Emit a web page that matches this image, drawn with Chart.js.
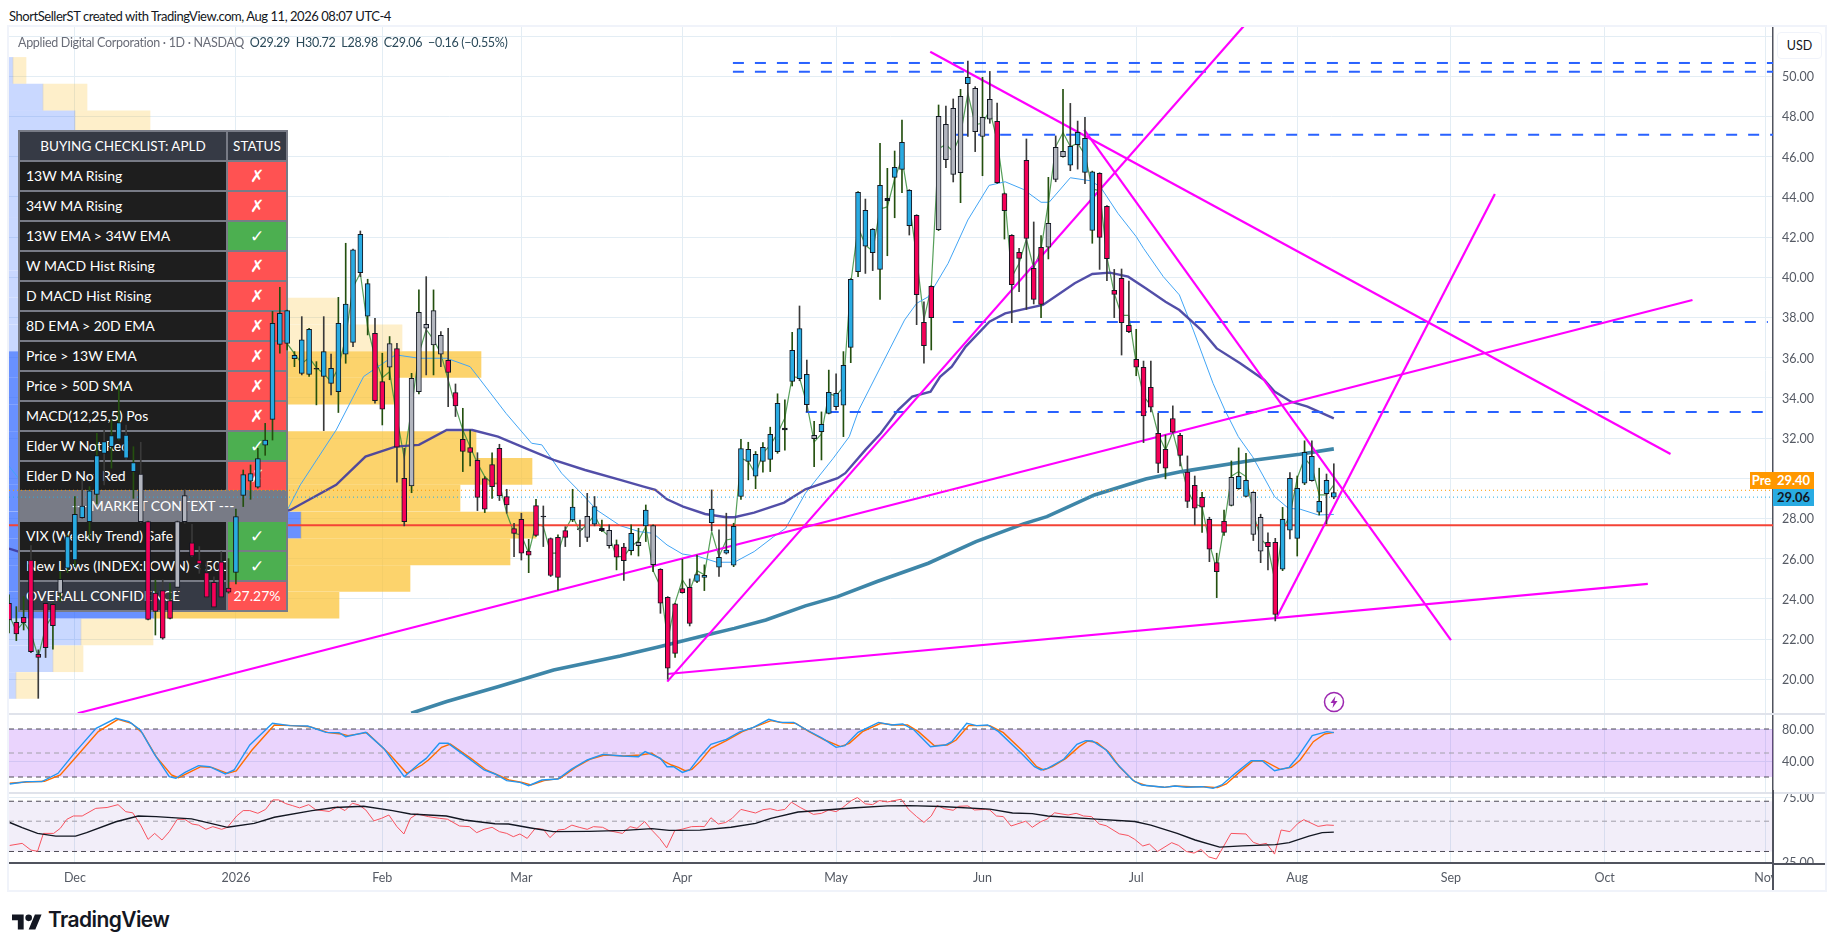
<!DOCTYPE html>
<html>
<head>
<meta charset="utf-8">
<title>APLD</title>
<script src="https://cdn.jsdelivr.net/npm/chart.js@4"></script>
<style>
html, body { margin: 0; padding: 0; background: #fff; }
body { width: 1835px; height: 951px; position: relative; overflow: hidden; font-family: Lato, sans-serif; }
canvas { position: absolute; left: 9px; }
#frame { position: absolute; left: 7px; top: 25px; width: 1816px; height: 863px; border: 2px solid #f0f3fa; }
#mainBack { top: 27px; z-index: 1; }
#mainFront { top: 27px; z-index: 3; }
#stochPane { top: 714px; z-index: 1; }
#rsiPane { top: 794px; z-index: 1; }
.sep { position: absolute; left: 9px; width: 1816px; height: 2px; background: #e0e3eb; z-index: 2; }
#axisFoot { position: absolute; left: 1774px; top: 864px; width: 51px; height: 26px; background: #fff; z-index: 2; }
#axisBase { position: absolute; left: 1773px; top: 863px; width: 52px; height: 2px; background: #50535e; z-index: 3; }
#axisDrop { position: absolute; left: 1772px; top: 790px; width: 2px; height: 100px; background: #50535e; z-index: 3; }
#credit { position: absolute; left: 9px; top: 8px; font-size: 13px; letter-spacing: -0.45px; color: #131722; }
#legend { position: absolute; left: 18px; top: 35px; font-size: 12.5px; letter-spacing: -0.3px; color: #6a6d78; z-index: 4; white-space: pre; }
#legend b { font-weight: 400; color: #2b4a5a; }
#usd { position: absolute; left: 1777px; top: 32px; width: 43px; height: 25px; line-height: 25px; text-align: center; border: 1px solid #f0f3fa; border-radius: 4px; font-size: 12.5px; color: #131722; background: #fff; z-index: 4; }
.tag { position: absolute; height: 17px; line-height: 17px; font-size: 13px; font-weight: 700; z-index: 5; text-align: center; }
#checklist { position: absolute; left: 18px; top: 130px; width: 270px; z-index: 2; background: #787b86; padding: 2px; box-sizing: border-box; display: grid; grid-template-columns: 206px 58px; grid-auto-rows: 28px; gap: 2px; color: #fff; font-size: 14px; }
#checklist div { line-height: 28px; white-space: nowrap; overflow: hidden; background: #1e1e1e; padding-left: 6px; }
#checklist .st { padding-left: 0; text-align: center; }
#checklist .mark { font: 700 17px "DejaVu Sans", sans-serif; line-height: 28px; }
#checklist .head { background: #363a45; text-align: center; padding-left: 0; font-size: 13.5px; }
#checklist .foot { background: #363a45; }
#checklist .ctx { background: #787b86; grid-column: 1 / 3; text-align: center; padding-left: 0; }
#checklist .bad { background: #ff5252; }
#checklist .good { background: #4caf50; }
#bolt { position: absolute; left: 1323px; top: 691px; z-index: 4; }
#tvLogo { position: absolute; left: 12px; top: 913px; }
#tvWord { position: absolute; left: 48px; top: 907px; font: 600 21px Inter, sans-serif; color: #131722; letter-spacing: -0.6px; }
</style>
</head>
<body>
<div id="credit">ShortSellerST created with TradingView.com, Aug 11, 2026 08:07 UTC-4</div>
<div id="frame"></div>
<canvas id="mainBack" width="1816" height="687"></canvas>
<div id="checklist"></div>
<canvas id="mainFront" width="1816" height="687"></canvas>
<div id="legend">Applied Digital Corporation · 1D · NASDAQ  <b>O29.29  H30.72  L28.98  C29.06  −0.16 (−0.55%)</b></div>
<div id="usd">USD</div>
<canvas id="stochPane" width="1816" height="79"></canvas>
<canvas id="rsiPane" width="1816" height="96"></canvas>
<div class="sep" style="top:713px"></div>
<div class="sep" style="top:792px"></div>
<div id="axisFoot"></div>
<div id="axisBase"></div>
<div id="axisDrop"></div>
<svg id="bolt" width="22" height="22" viewBox="0 0 22 22"><circle cx="11" cy="11" r="9.5" fill="#fff" stroke="#9c27b0" stroke-width="1.5"/><path d="M12.5 5 L7.5 12 H10.5 L9.5 17 L14.5 10 H11.5 Z" fill="#9c27b0"/></svg>
<svg id="tvLogo" width="30" height="18" viewBox="0 3 36 20"><path d="M14 22H7V11H0V4h14v18zM28 22h-8l7.5-18h8L28 22z" fill="#131722"/><circle cx="20" cy="8" r="4" fill="#131722"/></svg>
<div id="tvWord">TradingView</div>
<script>
// Time axis, x values are trading days counted from Dec 1
const firstBar = -9;
const lastSlot = 232;
const monthTicks = [0, 22, 42, 61, 83, 104, 124, 145, 167, 188, 209, 231];
const monthLabels = ['Dec', '2026', 'Feb', 'Mar', 'Apr', 'May', 'Jun', 'Jul', 'Aug', 'Sep', 'Oct', 'Nov'];
const priceTicks = [52, 50, 48, 46, 44, 42, 40, 38, 36, 34, 32, 30, 28, 26, 24, 22, 20];
const stochTicks = [80, 40];
const rsiTicks = [75, 25];

// Candles, first value is bar -9
const highs = [24.2, 23.61, 24.11, 26.65, 21.46, 23.81, 23.78, 25.35, 27.18,
    29.09, 29.92, 29.58, 32.24, 32.4, 32.9, 34.6, 32.65, 31.57, 31.79,
    27.87, 24.94, 24.94, 24.77, 27.87, 29.42, 27.71, 26.6, 25.85, 25.1,
    26.35, 26, 28.46, 30.41, 30.66, 31.49, 32.73, 38.3, 39.5, 38.37,
    36.3, 38.04, 37.46, 35.8, 38.04, 36.18, 39, 41.69, 41.4, 42.3,
    39.9, 37.96, 36.22, 37.05, 36.71, 31.49, 35.22, 39.37, 40.03, 39.37,
    37.3, 37.46, 34.69, 33.48, 32.4, 31.27, 30.08, 31.27, 31.69, 29.45,
    27.76, 28.26, 26.96, 28.95, 28.62, 27.03, 27.18, 27.59, 29.45, 27.92,
    29.25, 29.09, 27.92, 27.68, 26.93, 26.76, 27.68, 27.51, 28.67, 27.68,
    25.5, 24.11, 23.78, 25.97, 24.99, 26.18, 25.69, 29.42, 27.43, 28.26,
    27.76, 31.94, 31.79, 31.33, 31.77, 32.54, 34.2, 33.9, 37.26, 38.57,
    35.88, 32.83, 33.3, 35.38, 35.19, 36.3, 39.93, 44.26, 43.89, 42.42,
    46.66, 45.42, 46.28, 47.82, 44.36, 43.11, 38.78, 39.58, 48.57, 48.52,
    48.87, 49.35, 50.76, 49.48, 49.95, 50.24, 48.67, 44.19, 42.12, 41.44,
    46.88, 42.75, 42.07, 44.97, 47.03, 49.35, 48.65, 47.77, 47.95, 45.28,
    45.2, 43.56, 40.39, 40.41, 39.81, 37.41, 35.83, 35.83, 33.23, 32.15,
    33.6, 32.24, 31.11, 30.11, 29.3, 28.06, 26.27, 28.42, 30.86, 31.51,
    31.24, 29.33, 28.21, 27.28, 27.01, 28.55, 30.28, 30.11, 31.86, 31.86,
    30.5, 30.21, 30.72];
const lows = [22.3, 21.92, 22.45, 21.32, 19.05, 21.08, 21.49, 23.86, 25.3,
    25.6, 28.01, 27.01, 28.72, 29.67, 30.5, 31.9, 30.94, 29, 27.79,
    22.95, 22.2, 21.99, 23, 24.36, 27.76, 26.1, 25.27, 24.03, 23.53,
    24.03, 24.28, 24.74, 28.59, 28.95, 29.5, 31.14, 31.9, 36.22, 36.38,
    35.55, 35.14, 35.06, 33.65, 32.37, 34.14, 33.27, 35.72, 36.55, 40.03,
    37.13, 33.73, 32.65, 34.9, 29.8, 27.63, 29.28, 34.2, 35.14, 35.14,
    35.55, 33.56, 33.07, 30.33, 30.61, 28.39, 28.29, 29, 28.89, 28.26,
    26.1, 25.93, 25.3, 27.1, 26.6, 25.11, 24.44, 26.6, 27.84, 26.6,
    26.85, 27.63, 27.34, 26.52, 25.44, 24.91, 26.18, 26.13, 26.85, 25.35,
    23.28, 20, 21.08, 24.28, 22.65, 24.81, 24.41, 27.39, 25.11, 26.23,
    25.6, 28.95, 29.92, 29.48, 30.3, 30.33, 31.24, 31.4, 34.59, 34.85,
    33.3, 30.58, 30.91, 33.2, 33.4, 32.07, 35.75, 40.03, 40.19, 40.33,
    38.9, 41.07, 42.96, 44.21, 42.1, 37.64, 35.72, 36.38, 42.32, 45.45,
    44.74, 43.71, 47, 46.25, 45.05, 47.66, 44.67, 41.9, 37.74, 39.28,
    38.4, 38.67, 37.99, 40.91, 44.75, 45.97, 45.3, 45.38, 44.65, 41.69,
    40.39, 39.83, 37.99, 36.13, 37.24, 35.1, 31.77, 33.3, 30.28, 29.97,
    32.24, 30.61, 28.54, 27.68, 27.3, 25.85, 24.06, 27.15, 28.62, 29.45,
    29.07, 26.9, 25.8, 25.44, 22.9, 25.4, 26.98, 26.13, 29.68, 29.85,
    28.17, 27.73, 28.98];
const bodyTops = [23.78, 22.83, 23.08, 25.93, 21.24, 23.78, 23.73, 24.97, 27.1,
    28.21, 28.62, 29.37, 31.13, 31.82, 32.12, 32.77, 32.15, 30.78, 30.21,
    27.84, 24.28, 24.41, 23.91, 27.84, 29.14, 26.78, 25.93, 25.3, 24.82,
    25.84, 24.53, 28.09, 30.18, 30.23, 30.98, 31.9, 37.71, 38.21, 38.34,
    36.12, 36.88, 37.41, 35.47, 36.3, 35.47, 37.71, 38.67, 41.36, 42.14,
    39.68, 37.21, 34.81, 36.7, 36.45, 30, 34.97, 38.26, 37.66, 38.34,
    37.11, 35.87, 34.26, 31.94, 31.52, 30.89, 29.98, 30.68, 31.49, 29.09,
    27.49, 27.96, 26.37, 28.64, 28.12, 27, 27.06, 27.39, 28.56, 27.49,
    28.11, 28.59, 27.51, 27.41, 26.7, 26.57, 27.26, 26.81, 28.41, 27.64,
    25.47, 24.08, 23.75, 24.51, 24.57, 25.21, 25.17, 28.46, 26.07, 26.42,
    27.61, 31.47, 31.44, 31.19, 31.54, 32.19, 33.73, 32.5, 36.36, 37.44,
    35.17, 32.14, 32.68, 34.27, 34.22, 35.62, 39.89, 44.22, 43.33, 42.38,
    44.57, 43.93, 45.47, 46.71, 44.32, 43.08, 37.76, 39.55, 48, 47.61,
    48.4, 49, 49.95, 49.4, 47.95, 48.85, 47.76, 44.16, 42.08, 41.24,
    45.82, 40.44, 41.49, 42.68, 46.46, 46.26, 46.51, 47.21, 46.91, 45.25,
    45.17, 43.53, 39.35, 39.95, 37.61, 35.92, 35.52, 34.52, 32.24, 31.44,
    32.97, 32.14, 30.3, 29.65, 29.05, 27.96, 25.8, 27.86, 30.05, 30.1,
    29.9, 29.3, 28.06, 26.81, 26.81, 27.96, 30, 29.5, 31.29, 31.09,
    28.85, 29.9, 29.29];
const bodyBottoms = [22.95, 22.25, 22.82, 21.37, 21.08, 21.57, 22.67, 24.28, 25.52,
    25.93, 28.04, 27.84, 29.2, 31.24, 31.57, 31.94, 31, 30.33, 27.84,
    22.98, 23.37, 22.04, 23.03, 24.57, 27.84, 26.13, 25.74, 24.08, 23.58,
    24.08, 24.33, 25.32, 29.15, 29.85, 29.55, 31.64, 32.93, 36.66, 36.71,
    35.95, 35.22, 35.17, 35.42, 35.06, 34.72, 34.31, 36.17, 36.76, 40.23,
    38.06, 33.86, 33.43, 35.52, 31.54, 27.84, 29.62, 34.31, 37.46, 36.63,
    36.17, 35.27, 33.6, 31.34, 31.29, 29.05, 28.46, 29.58, 29.12, 28.67,
    27.26, 26.27, 26.17, 27.16, 28.07, 25.16, 25.07, 27.06, 27.92, 27.44,
    27.06, 27.71, 27.39, 26.65, 26.07, 25.9, 26.4, 26.65, 27.63, 25.7,
    23.78, 20.55, 21.29, 24.31, 22.78, 24.86, 25.07, 27.79, 25.57, 26.27,
    25.67, 29.09, 30.84, 30.1, 30.84, 30.94, 31.32, 32.4, 34.82, 34.95,
    33.66, 31.97, 32.32, 33.23, 33.56, 33.63, 36.51, 40.28, 41.54, 41.22,
    40.39, 43.81, 44.97, 45.37, 42.57, 39.13, 36.59, 37.99, 42.37, 45.85,
    45.12, 45.2, 49.63, 47.24, 47, 47.86, 44.7, 43.31, 39.63, 40.94,
    41.93, 38.9, 38.65, 41.49, 44.87, 46, 45.57, 46.6, 45.22, 42.33,
    41.98, 40.92, 39.15, 37.74, 37.29, 35.52, 33.1, 33.53, 30.74, 30.5,
    32.29, 31.14, 28.85, 28.51, 28.56, 26.47, 25.35, 27.31, 28.65, 29.48,
    29.1, 27.2, 26.37, 26.6, 23.23, 25.47, 27.41, 27.01, 29.75, 29.88,
    28.31, 29.23, 29.06];
const candleKinds = ('r r r r r r r g b ' +
    'b b b b b b b b b g r r r r g g r r r r ' +
    'r r b b b b b b b b b b b k b b b b b b ' +
    'b r r g r r g g g g g r r r r r r r r r ' +
    'r r r r k r r r b g g b k g r r b g b g ' +
    'r r r r r b b b b b b b b b b b b k b b ' +
    'b g b b b b b b b b b k b b b r r r g g ' +
    'g g b g g g r r r r r r r g g g b b b b ' +
    'r r r r r r r r r r r r r r r r r r g b ' +
    'b g g r r b b b b b b b b').split(' ');
const wickKinds = ('u u u d d d u u u ' +
    'u d u u d u u d u d d u d u d d d d d d ' +
    'd u u u u u u u u u u d u u d d u u d d ' +
    'u d u u d d u u d u d d d u u d u u d d ' +
    'd d u u d d u d u d d d u d u d u u u u ' +
    'd d u u d u u d d d u u u u u u u u u d ' +
    'd u u u d u u u d d u u u u d d d u u d ' +
    'd u d d u d d u d d d d u u d u d d d u ' +
    'd d d d d u d d d u d d d d u d u u u u ' +
    'u d d d d u d u u d u d d').split(' ');

// Short moving average running through the candles, first value is bar -9
const fastLine = [23.2, 22.4, 22.85, 22.3, 21.1, 22.6, 23.2, 24.5, 26.2,
    27.2, 28.2, 28.6, 30.5, 31.4, 31.9, 32.3, 31.4, 30.8, 28.9,
    25, 24, 23.4, 23.6, 25.5, 28, 27, 25.9, 24.8, 24.2,
    25, 24.8, 27, 29.6, 30, 30.5, 31.7, 34.5, 36.8, 36.7,
    36.2, 35.7, 36, 35.5, 35.2, 34.8, 35.5, 37, 39.5, 40.2,
    37.5, 36, 35, 35.3, 33, 31, 33.5, 36.2, 37.4, 36.9,
    36.2, 34.89, 33.56, 32.4, 31.57, 30.74, 30.08, 29.75, 29.75, 28.26,
    27.26, 27.18, 26.27, 27.76, 27.6, 26.27, 26.27, 27.43, 28.1, 27.35,
    27.73, 28.17, 27.43, 27.1, 26.1, 26.1, 26.6, 26.9, 27.6, 25.4,
    24.6, 21.95, 23.8, 24.94, 24.4, 25.4, 25.2, 27.35, 26.1, 26.93,
    27, 31, 30.83, 30.2, 31.25, 31.65, 32.24, 33, 35.05, 35,
    33.7, 31.8, 32.2, 34.2, 34.1, 34.55, 39.7, 42.5, 41.6, 41.3,
    43.4, 43.5, 44.9, 45.9, 43.7, 41, 37.9, 39.5, 46.4, 46.6,
    46.25, 47.1, 49.15, 47.6, 47.66, 48.3, 46.8, 44.2, 40, 40.7,
    41.9, 40.44, 41.4, 43.7, 46.5, 47.2, 46.5, 46.66, 46.1, 44.4,
    44.3, 41, 39.2, 38.1, 38.1, 35.7, 34.1, 33.6, 32.2, 31.4,
    32.3, 30.9, 29.4, 28.7, 28.6, 26.76, 25.44, 27.6, 30.1, 30.33,
    30.08, 28.26, 27, 26.6, 24.8, 27.4, 28.17, 30, 31, 30.58,
    29.17, 29.17, 29.67];

// Moving averages, [bar, price]
const midLine = [[-9, 30.6], [-7.7, 30], [-5, 29.5], [0, 28], [5, 28.3], [10, 29], [15, 28.5], [20, 27.5], [25, 27.5], [29, 28.4],
    [30.8, 29.67], [35.7, 32.4], [39.45, 35.06], [43.8, 36.14], [47, 35.97], [50.8, 35.97], [54, 35.55], [55.4, 34.89], [58.9, 33.23],
    [62.4, 31.74], [63.8, 31.66], [66.5, 30.25], [69.2, 29.25], [71.3, 28.42], [74.5, 27.64], [77.15, 27.34], [79, 27.26], [80.9, 26.68],
    [83, 26.23], [85.25, 26.1], [87.7, 25.82], [90.1, 25.82], [92.8, 26.35], [95.5, 27.1], [97.1, 27.51], [99.8, 29.25], [103.6, 30.99],
    [105.8, 32.07], [107.1, 33.4], [110.1, 35.55], [113.35, 37.87], [115, 38.7], [116.6, 39.03], [119.3, 40.69], [122, 42.85], [124.9, 44.57],
    [127.1, 44.75], [129.6, 44.37], [132, 43.73], [133.1, 43.73], [136, 44.95], [138.75, 44.8], [140.1, 44.5], [142.5, 43.18], [145, 42.02],
    [146, 41.44], [148.7, 40.03], [150.9, 39.12], [152.8, 37.37], [155.5, 34.72], [157.1, 33.4], [158.95, 32.07], [160.9, 31.07], [163.9, 29.09],
    [165.8, 28.5], [167.4, 28.46], [169.9, 28.17], [172, 28.2]];
const slowLine = [[-9, 26.5], [-7.7, 26.35], [5, 26.5], [15, 27], [29.45, 28.42], [35.7, 29.67], [39.7, 31.08], [43.8, 31.57], [47, 31.66],
    [50.8, 32.4], [54.3, 32.4], [57.8, 32.07], [62.1, 31.41], [65.4, 30.91], [69.7, 30.41], [74.5, 29.92], [77.7, 29.58], [79.3, 29.42],
    [80.9, 28.95], [83.1, 28.59], [86.1, 28.22], [89, 28.06], [90.1, 28.06], [92.8, 28.29], [96.9, 28.79], [99.8, 29.45], [104.2, 30],
    [105.25, 30.25], [108, 31.41], [110.1, 32.24], [112.5, 33.4], [114.4, 34.06], [116.9, 34.31], [118.2, 35.05], [119.8, 35.55], [121.7, 36.55],
    [124.95, 37.79], [127.1, 38.2], [130.1, 38.45], [132.25, 38.62], [133.9, 39.03], [136.6, 39.7], [139, 40.16], [141.4, 40.23], [143.9, 40.03],
    [146.3, 39.45], [149, 38.78], [150.9, 38.37], [153.9, 37.37], [156, 36.46], [159.2, 35.72], [162.5, 34.89], [163.9, 34.31], [166.15, 33.81],
    [168.4, 33.56], [172, 32.98]];
const longLine = [[45.95, 18.31], [50.8, 18.89], [57.8, 19.63], [65.4, 20.46], [74.5, 21.16], [79.85, 21.62], [86.3, 22.2], [90.1, 22.53],
    [94.4, 22.95], [99.8, 23.65], [104.2, 24.11], [109.6, 24.86], [116.6, 25.77], [123.1, 26.85], [129.6, 27.73], [132.8, 28.09], [139.3, 29.17],
    [146.3, 29.96], [151.2, 30.33], [160.75, 30.88], [167.35, 31.19], [172, 31.46]];

// Drawings: trend lines [bar, price, bar, price]
const trendLines = [[116.86, 51.22, 218, 31.21], [137.9, 47.33, 188, 21.95], [80.93, 19.88, 162, 53.45],
    [0.39, 18.31, 221, 38.87], [80.93, 20.26, 214.9, 24.74], [164.2, 23.08, 194, 44.14]];
const levelPrices = [50.66, 50.22, 47.09, 37.77, 33.3];
const levelStarts = [89.9, 89.9, 120.4, 119.95, 99.85];
const levelEnds = [232, 232, 232, 231.3, 230.6];
const supportPrice = 27.66;
const lastPrice = 29.06;
const prePrice = 29.4;

// Volume profile rows
const profilePrices = [50.29, 48.96, 47.63, 46.3, 44.97, 43.64, 42.31, 40.98, 39.65, 38.32, 36.99, 35.66,
    34.33, 33, 31.67, 30.34, 29.01, 27.67, 26.34, 25.01, 23.68, 22.35, 21.02, 19.69];
const profileUp = [4, 34, 66, 90, 100, 90, 90, 100, 110, 120, 130, 160, 180, 180, 200, 220, 230, 292, 250, 210, 145, 72, 44, 7];
const profileDown = [13, 44, 75, 70, 90, 90, 100, 110, 110, 209, 263, 312, 209, 90, 267, 303, 221, 235, 251, 191, 185, 72, 30, 22];
const valueAreaFirst = 11;
const valueAreaLast = 20;

// Stochastic pane, [bar, value]
const stochK = [[-8.9, 11.25], [-6.6, 14.2], [-4.5, 14.2], [-2.3, 24.6], [0.1, 51.7], [2.9, 80.8], [5.6, 93.3], [7.4, 89.2], [8.95, 78.75], [10.8, 49.6],
    [12.9, 20.4], [13.8, 18.3], [15.05, 25.8], [16.9, 34.2], [18.4, 32.9], [20.55, 23.75], [21.75, 28.75], [23.9, 60], [27, 87.1], [29.4, 84.2],
    [31.8, 83.75], [34.3, 75.8], [36.1, 75.4], [37, 70.4], [39.75, 75.8], [42.2, 55.8], [45, 20.4], [47.1, 37.1], [48, 43.3], [49.8, 62.1],
    [51, 62.1], [53.8, 43.3], [55.9, 28.75], [57.4, 23.75], [59, 15.4], [60.8, 13.3], [62, 9.2], [63.8, 16.25], [66, 17.5], [67.8, 29.6],
    [70, 41.25], [72.1, 48.3], [74.8, 46.25], [77, 45.4], [77.9, 51.7], [80, 43.3], [80.9, 32.9], [81.8, 32.9], [83, 25.8], [84, 28.75],
    [85.4, 45.4], [86.9, 60.8], [89, 67.1], [90.9, 76.7], [92.7, 82.1], [94.8, 92.1], [96.4, 88.3], [98.2, 88.3], [100, 78.75], [102.15, 68.3],
    [104, 57.1], [105.2, 59.2], [107, 75.8], [109.8, 88.3], [111.6, 85], [113.1, 86.25], [114.65, 78.75], [116.9, 57.9], [118.9, 60], [119.8, 64.2],
    [121.85, 87.1], [123.2, 84.2], [124.7, 85], [126.2, 76.7], [129.3, 49.6], [131.1, 32.9], [132, 28.75], [132.9, 30.8], [135.1, 42.1], [136.9, 60.8],
    [138.1, 65.4], [139, 65], [140.9, 53.75], [142.1, 39.2], [144.5, 16.25], [145.75, 10], [148.8, 7.1], [150.3, 8.75], [151.85, 7.1], [154, 7.9],
    [155.5, 5.85], [156.7, 10], [158.55, 24.6], [160.7, 40.4], [162.2, 40.4], [163.9, 27.9], [165.9, 32.1], [167.1, 45.4], [169.05, 71.7], [171.05, 76.7], [172, 75.4]];
const stochD = [[-8.9, 12.1], [-6.6, 13.75], [-4.15, 14.6], [-2, 22.5], [0.4, 47.5], [3.2, 76.7], [5.9, 92.1], [7.75, 87.1], [9.25, 74.6], [11.1, 45.4],
    [13.2, 22.5], [14.15, 19.2], [15.35, 24.6], [17.2, 32.9], [18.7, 32.1], [20.85, 24.6], [22.05, 27.5], [24.2, 53.75], [27.25, 85], [29.7, 84.2],
    [32.1, 82.9], [34.6, 75.4], [36.4, 73.75], [37.3, 71.7], [39.9, 75.4], [42.8, 50.4], [45.35, 24.6], [47.4, 35], [48.3, 41.25], [50.1, 57.1],
    [51.3, 61.25], [54.1, 43.3], [56.2, 28.75], [57.75, 22.5], [59.3, 16.25], [61.1, 13.3], [62.3, 10], [64.1, 15.4], [66.3, 18.3], [68.4, 32.1],
    [70.35, 42.1], [72.35, 47.5], [75.1, 46.25], [77.25, 47.5], [78.8, 49.6], [80.6, 39.2], [81.5, 35], [82.45, 32.1], [83.35, 27.9], [84.3, 29.6],
    [85.4, 39.2], [86.9, 55.8], [89, 65.4], [91.2, 76.7], [93, 82.9], [95.1, 90.4], [96.7, 87.9], [98.5, 87.1], [100.3, 76.7], [102.45, 66.25],
    [104.6, 58], [105.8, 62.1], [107.6, 76.7], [110.1, 87.1], [111.9, 85], [113.75, 85], [115.25, 76.7], [117.4, 59.2], [119.2, 60], [120.4, 66.25],
    [122.1, 84.2], [123.5, 84.2], [125, 84.2], [126.85, 75.4], [129.6, 51.7], [131.4, 32.9], [132.35, 28.75], [133.55, 32.9], [135.4, 43.3], [137.2, 57.9],
    [138.4, 65], [139.65, 62.9], [141.2, 51.7], [142.7, 32.9], [144.8, 14.2], [146.4, 9.2], [148.8, 7.1], [150.3, 8.75], [152.45, 7.9], [154.3, 7.9],
    [156.1, 6.7], [157.3, 11.25], [159.2, 26.7], [161, 40.4], [162.5, 40], [164.65, 29.6], [166.2, 32.1], [167.4, 41.25], [169.2, 64.2], [170.75, 73.75], [172, 75.8]];
const stochBands = [80, 50, 20];

// RSI pane, [bar, value]
const rsiLine = [[-8.9, 33.2], [-7.2, 34.4], [-6, 30.7], [-5.1, 30.1], [-4.3, 40.7], [-2.9, 40.7], [-2, 44.3], [-1.1, 51.6], [-0.2, 54.6], [1, 54.6],
    [2.85, 62.1], [4.4, 63], [5.9, 66.1], [6.95, 58.7], [7.9, 57.6], [9, 46.8], [10, 36.8], [10.9, 40.7], [11.9, 36.4], [12.9, 41.9],
    [14, 51.6], [15, 51.6], [16, 47.7], [16.9, 46.8], [17.9, 43.6], [18.85, 45.6], [20.05, 43.6], [20.85, 45.1], [22.1, 54.6], [23, 59.8],
    [23.9, 59.8], [25, 57.1], [26.05, 61], [27.05, 71.6], [27.85, 71.6], [28.8, 67.3], [29.7, 65.1], [30.7, 62.6], [31.95, 66.1], [32.9, 60.7],
    [34.75, 58.9], [35.9, 63.9], [36.9, 59.8], [37.9, 67.7], [38.8, 65.8], [39.75, 60.4], [40.85, 50.3], [41.9, 52.5], [42.9, 55.5], [44, 45.6],
    [44.95, 40.3], [45.85, 52.5], [46.75, 56.5], [48.3, 54], [49.8, 52.5], [50.9, 51.7], [52.55, 46.1], [53.9, 45.6], [54.9, 41.2], [55.9, 43.6],
    [57, 45.1], [58, 41.9], [59, 40.7], [59.9, 38.5], [60.8, 40.3], [61.8, 37.4], [62.9, 44.3], [64, 43.6], [64.9, 37.9], [66, 43.1],
    [66.9, 43.6], [67.9, 46.8], [68.9, 45.1], [70, 43.6], [70.85, 45.6], [72.1, 45.1], [73, 42.6], [74.8, 40.7], [75.85, 45.6], [76.8, 44.3],
    [77.85, 49.7], [78.9, 42.6], [79.9, 37.4], [80.85, 31.9], [81.95, 42.6], [83.05, 43.8], [84.25, 45.6], [85.4, 45.8], [86, 45.6], [86.9, 53],
    [87.9, 47.7], [88.9, 48.9], [89.8, 52.5], [91, 61], [93, 57.4], [94, 60.7], [95, 61.7], [96, 59.8], [97, 61], [97.9, 68.9],
    [99.1, 63], [100.9, 56.1], [102, 57.1], [103, 60.4], [104, 58.7], [104.9, 63], [106.1, 70.8], [106.9, 74.5], [108, 67], [109, 66.1],
    [109.9, 70.8], [111, 69.2], [112.9, 72.4], [113.9, 61], [115, 54], [116, 49], [117, 54.6], [117.8, 65.1], [118.8, 61.7], [120, 60.1],
    [120.75, 64.3], [122, 64.7], [122.9, 60.4], [124.4, 61], [125, 60.4], [125.9, 54.6], [126.85, 54], [127.9, 46.1], [129.9, 50], [130.8, 45.1],
    [132, 49.7], [132.8, 51.7], [133.85, 57.6], [135.7, 55.5], [136.8, 57.1], [137.8, 54.6], [138.9, 54], [139.95, 47.7], [140.9, 46.3], [142.7, 40.4],
    [143.9, 39.3], [144.8, 36.8], [145.9, 32.9], [146.8, 34], [147.9, 30], [149.85, 34.8], [150.8, 33.2], [151.85, 30], [152.9, 29.2], [153.85, 31],
    [154.9, 27.4], [155.95, 26.4], [157.95, 40.7], [160, 40.3], [161, 35], [161.9, 33.7], [162.8, 34.4], [163.9, 28.7], [164.8, 43.1], [166, 41.9],
    [167.1, 48.2], [167.9, 51.3], [169.85, 45.8], [171.05, 46.9], [172, 46.6]];
const rsiAverage = [[-8.9, 48.9], [-7.2, 44.8], [-5.1, 40.7], [-2.6, 38.9], [0.1, 38.9], [1.6, 41.2], [5.6, 49.5], [8.65, 54.6], [11.1, 54], [15.95, 52],
    [20.85, 45.1], [24.5, 48.2], [27.25, 53.4], [32.4, 59.8], [35.5, 63], [39.45, 64.3], [43.4, 59.8], [45.85, 56.5], [50.75, 54.6], [53.2, 51],
    [57.4, 47.9], [59.25, 47.7], [62.3, 44.6], [65.35, 41.9], [70.25, 42.1], [75.1, 42.8], [78.8, 44.1], [81.2, 42.8], [85.4, 43], [89.65, 45.1],
    [93, 48.2], [95.1, 52.5], [98.8, 58.4], [103, 60.7], [106.7, 62.7], [111, 64.7], [114, 65], [118.3, 64], [125, 61.3], [128.1, 57.4],
    [130.8, 56.8], [132.9, 54.6], [139, 52], [144.8, 49.7], [147, 46.8], [150.6, 40.7], [153.05, 36.4], [156.4, 32.3], [159.5, 33], [164, 33.7],
    [165.9, 34.8], [168.6, 38.9], [170.4, 41.2], [172, 41.6]];
const rsiBands = [70, 50, 30];

// Checklist table
const checkNames = ['13W MA Rising', '34W MA Rising', '13W EMA > 34W EMA', 'W MACD Hist Rising', 'D MACD Hist Rising',
    '8D EMA > 20D EMA', 'Price > 13W EMA', 'Price > 50D SMA', 'MACD(12,25,5) Pos', 'Elder W Not Red', 'Elder D Not Red'];
const checkPassed = [false, false, true, false, false, false, false, false, false, true, false];
const contextNames = ['VIX (Weekly Trend) Safe', 'New Lows (INDEX:LOWN) < 500'];
const contextPassed = [true, true];
const confidence = '27.27%';


const uiFont = { family: 'Lato, sans-serif', size: 12.5 };
const gridColor = '#e3edf4';
const axisColor = '#50535e';
const labelColor = '#555a64';
const kindColors = { r: '#f50057', b: '#29abe2', g: '#b2b5be', k: '#131722' };
const wickColors = { u: '#24500f', d: '#3a3a3a' };

function cell(text, cls) {
    const el = document.createElement('div');
    el.className = cls;
    el.textContent = text;
    document.getElementById('checklist').appendChild(el);
}

function buildChecklist() {
    cell('BUYING CHECKLIST: APLD', 'head');
    cell('STATUS', 'head st');
    checkNames.forEach((name, i) => {
        cell(name, '');
        cell(checkPassed[i] ? '✓' : '✗', 'st mark ' + (checkPassed[i] ? 'good' : 'bad'));
    });
    cell('--- MARKET CONTEXT ---', 'ctx');
    contextNames.forEach((name, i) => {
        cell(name, '');
        cell(contextPassed[i] ? '✓' : '✗', 'st mark ' + (contextPassed[i] ? 'good' : 'bad'));
    });
    cell('OVERALL CONFIDENCE', 'foot');
    cell(confidence, 'st bad');
}

function timeAxis(showLabels) {
    return {
        type: 'linear',
        offset: false,
        min: firstBar,
        max: lastSlot,
        afterBuildTicks: (axis) => { axis.ticks = monthTicks.map((value) => ({ value })); },
        afterFit: (axis) => {
            axis.paddingLeft = 0;
            axis.paddingRight = 0;
            if (showLabels) axis.height = 27;
        },
        grid: { color: gridColor, drawTicks: false, offset: false },
        border: { display: showLabels, color: axisColor, width: 2 },
        ticks: {
            display: showLabels,
            autoSkip: false,
            maxRotation: 0,
            padding: 7,
            color: labelColor,
            font: uiFont,
            callback: (value, index) => monthLabels[index],
        },
    };
}

function valueAxis(type, tickValues, min, max) {
    return {
        type: type,
        position: 'right',
        offset: false,
        min: min,
        max: max,
        afterBuildTicks: (axis) => { axis.ticks = tickValues.map((value) => ({ value })); },
        afterFit: (axis) => {
            axis.width = 52;
            axis.paddingTop = 0;
            axis.paddingBottom = 0;
        },
        grid: { color: gridColor, drawTicks: false, offset: false },
        border: { color: axisColor, width: 1.5 },
        ticks: {
            padding: 9,
            labelOffset: 1,
            autoSkip: false,
            color: labelColor,
            font: uiFont,
            callback: (value) => (value === 52 ? '' : value.toFixed(2)),
        },
    };
}

function pairs(list) {
    return list.map((p) => ({ x: p[0], y: p[1] }));
}

function lineSet(points, color, width, extra) {
    return Object.assign({
        type: 'line',
        data: points,
        borderColor: color,
        borderWidth: width,
        pointRadius: 0,
        tension: 0,
        fill: false,
        xAxisID: 'x',
    }, extra || {});
}

function flatLine(value, from, to, color, width, dash) {
    return lineSet([{ x: from, y: value }, { x: to, y: value }], color, width, { borderDash: dash || [] });
}

const baseOptions = {
    responsive: false,
    animation: false,
    events: [],
    plugins: { legend: { display: false }, tooltip: { enabled: false } },
};

function drawBackPane() {
    const indexes = highs.map((h, i) => firstBar + i);
    const upData = profilePrices.map((p, i) => ({ x: [0, profileUp[i]], y: p }));
    const downData = profilePrices.map((p, i) => ({ x: [profileUp[i], profileUp[i] + profileDown[i]], y: p }));
    const inValueArea = (i) => i >= valueAreaFirst && i <= valueAreaLast;

    const datasets = [];
    trendLines.forEach((t) => {
        datasets.push(lineSet([{ x: t[0], y: t[1] }, { x: t[2], y: t[3] }], '#ff00ff', 2.2));
    });
    levelPrices.forEach((p, i) => {
        datasets.push(flatLine(p, levelStarts[i], levelEnds[i], '#2962ff', 2, [11, 11]));
    });
    datasets.push(flatLine(supportPrice, firstBar, lastSlot, '#f44336', 2));
    datasets.push(lineSet(pairs(longLine), '#3e86a8', 3.6));
    datasets.push(lineSet(pairs(slowLine), 'rgba(63,59,158,0.9)', 2.4));
    datasets.push(lineSet(pairs(midLine), '#42a5f5', 1));
    datasets.push(lineSet(indexes.map((x, i) => ({ x: x, y: fastLine[i] })), 'rgba(56,142,60,0.85)', 1.2));
    datasets.push({
        type: 'bar', indexAxis: 'y', xAxisID: 'xv', yAxisID: 'y', grouped: false, barThickness: 26, borderWidth: 0,
        data: downData,
        backgroundColor: profilePrices.map((p, i) => (inValueArea(i) ? 'rgba(251,192,45,0.7)' : 'rgba(251,192,45,0.25)')),
    });
    datasets.push({
        type: 'bar', indexAxis: 'y', xAxisID: 'xv', yAxisID: 'y', grouped: false, barThickness: 26, borderWidth: 0,
        data: upData,
        backgroundColor: profilePrices.map((p, i) => (inValueArea(i) ? 'rgba(41,98,255,0.7)' : 'rgba(41,98,255,0.25)')),
    });

    return new Chart(document.getElementById('mainBack'), {
        type: 'bar',
        data: { datasets: datasets },
        options: Object.assign({}, baseOptions, {
            scales: {
                x: timeAxis(false),
                xv: { type: 'linear', display: false, offset: false, min: 0, max: 1764 },
                y: valueAxis('linear', priceTicks, 18.27, 52.45),
            },
        }),
    });
}

function drawFrontPane() {
    const bodies = highs.map((h, i) => ({ x: firstBar + i, y: [bodyBottoms[i], bodyTops[i]] }));
    const wicks = highs.map((h, i) => ({ x: firstBar + i, y: [lows[i], h] }));
    return new Chart(document.getElementById('mainFront'), {
        type: 'bar',
        data: {
            datasets: [
                {
                    data: bodies, grouped: false, barThickness: 5, borderWidth: 1, borderSkipped: false,
                    borderColor: '#131722',
                    backgroundColor: candleKinds.map((k) => kindColors[k]),
                },
                {
                    data: wicks, grouped: false, barThickness: 1, borderWidth: 0,
                    backgroundColor: wickKinds.map((k) => wickColors[k]),
                },
                flatLine(prePrice, firstBar, lastSlot, '#ff9800', 1, [1, 3]),
                flatLine(lastPrice, firstBar, lastSlot, '#29abe2', 1, [1, 3]),
            ],
        },
        options: Object.assign({}, baseOptions, {
            layout: { padding: { right: 52 } },
            scales: {
                x: { type: 'linear', display: false, offset: false, min: firstBar, max: lastSlot },
                y: { type: 'linear', display: false, offset: false, min: 18.27, max: 52.45 },
            },
        }),
    });
}

function drawStochPane() {
    const datasets = [
        lineSet(pairs(stochK), '#2196f3', 1.4),
        lineSet(pairs(stochD), '#ff6d00', 1.4),
        flatLine(stochBands[1], firstBar, lastSlot, '#a09fa8', 1, [5, 4]),
        flatLine(stochBands[2], firstBar, lastSlot, '#4e4b56', 1, [5, 4]),
        lineSet([{ x: firstBar, y: stochBands[0] }, { x: lastSlot, y: stochBands[0] }], '#4e4b56', 1, {
            borderDash: [5, 4],
            fill: { value: stochBands[2] },
            backgroundColor: 'rgba(149,39,245,0.2)',
        }),
    ];
    return new Chart(document.getElementById('stochPane'), {
        type: 'line',
        data: { datasets: datasets },
        options: Object.assign({}, baseOptions, {
            scales: { x: timeAxis(false), y: valueAxis('linear', stochTicks, 0, 98.75) },
        }),
    });
}

function drawRsiPane() {
    const datasets = [
        lineSet(pairs(rsiAverage), '#131722', 1.4),
        lineSet(pairs(rsiLine), '#f7525f', 1),
        flatLine(rsiBands[1], firstBar, lastSlot, '#a09fa8', 1, [5, 4]),
        flatLine(rsiBands[2], firstBar, lastSlot, '#4e4b56', 1, [5, 4]),
        lineSet([{ x: firstBar, y: rsiBands[0] }, { x: lastSlot, y: rsiBands[0] }], '#4e4b56', 1, {
            borderDash: [5, 4],
            fill: { value: rsiBands[2] },
            backgroundColor: 'rgba(126,87,194,0.1)',
        }),
    ];
    return new Chart(document.getElementById('rsiPane'), {
        type: 'line',
        data: { datasets: datasets },
        options: Object.assign({}, baseOptions, {
            layout: { padding: { top: 3 } },
            scales: { x: timeAxis(true), y: valueAxis('logarithmic', rsiTicks, 24.7, 75.2) },
        }),
    });
}

function addTag(text, left, top, width, back, color) {
    const el = document.createElement('div');
    el.className = 'tag';
    el.textContent = text;
    el.style.cssText = 'left:' + left + 'px;top:' + top + 'px;width:' + width + 'px;background:' + back + ';color:' + color;
    document.body.appendChild(el);
}

buildChecklist();
const backChart = drawBackPane();
drawFrontPane();
drawStochPane();
drawRsiPane();

// Price tags on the axis, pre market sits on top of the last price
const lastY = Math.round(27 + backChart.scales.y.getPixelForValue(lastPrice));
addTag(lastPrice.toFixed(2), 1773, lastY - 8, 41, '#29abe2', '#131722');
addTag(prePrice.toFixed(2), 1773, lastY - 25, 41, '#ff9800', '#fff');
addTag('Pre', 1750, lastY - 25, 23, '#ff9800', '#fff');
</script>
</body>
</html>
